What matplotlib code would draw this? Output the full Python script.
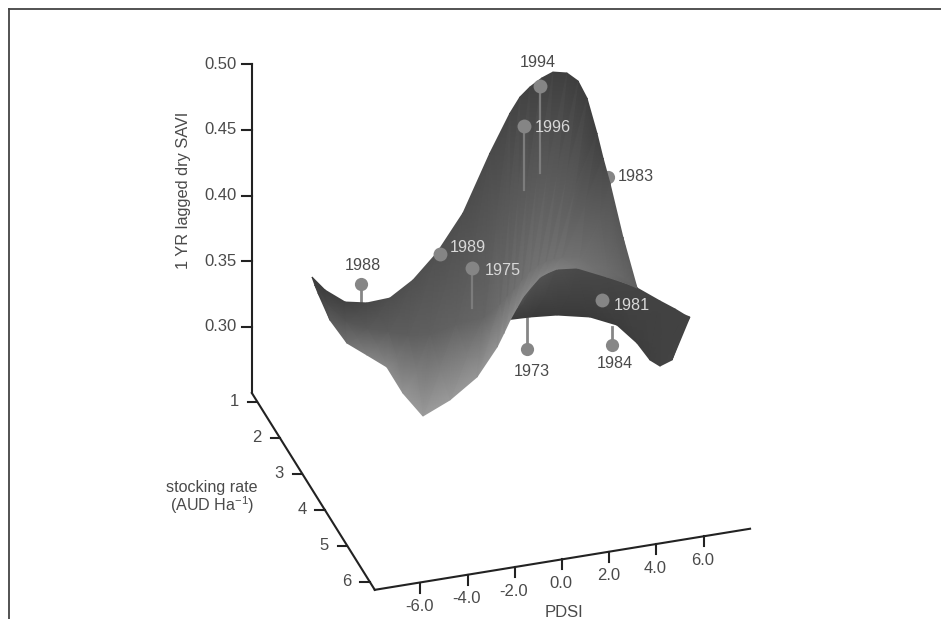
import numpy as np
import matplotlib
matplotlib.use('Agg')
from matplotlib import pyplot as plt
from matplotlib.lines import Line2D

plt.rcParams['font.family'] = ['Liberation Sans', 'DejaVu Sans']
plt.rcParams['mathtext.default'] = 'regular'

# Tick values
savi_ticks = [0.30, 0.35, 0.40, 0.45, 0.50]
stock_ticks = [1, 2, 3, 4, 5, 6]
pdsi_ticks = [-6.0, -4.0, -2.0, 0.0, 2.0, 4.0, 6.0]

# Surface: x on the PDSI scale, y on the SAVI scale
# back edge, a row across the slope, front edge
hill_x_back = [-10.59, -10.04, -9.19, -8.26, -7.29, -6.31, -5.30, -4.19, -3.05, -2.20, -1.78, -1.36, -0.85, -0.38, 0.21, 0.68, 1.06, 1.48, 1.74, 2.03, 2.58, 3.18]
hill_y_back = [.338, .3281, .319, .3183, .322, .3357, .3563, .3867, .4323, .4627, .4749, .4825, .4894, .4939, .4932, .4871, .4741, .4475, .4285, .4095, .3684, .3297]
hill_c_back = [58, 62, 66, 72, 78, 80, 80, 78, 74, 70, 68, 66, 65, 64, 63, 62, 63, 64, 70, 80, 90, 96]

hill_x_mid = [-10.47, -9.92, -9.15, -8.26, -7.37, -6.53, -5.59, -4.49, -3.31, -2.63, -2.33, -2.03, -1.70, -1.36, -1.02, -0.68, -0.34, 0.0, 0.76, 1.91, 2.67, 3.18]
hill_y_mid = [.3319, .3167, .3038, .2985, .2962, .2932, .2939, .3015, .3068, .3167, .3224, .3281, .335, .3418, .346, .3494, .3512, .3525, .3525, .3449, .3373, .3297]
hill_c_mid = [62, 74, 85, 90, 92, 94, 96, 98, 102, 108, 110, 112, 113, 114, 114, 114, 114, 114, 112, 108, 102, 96]

hill_x_front = [-10.34, -9.83, -9.11, -8.26, -7.42, -6.74, -5.89, -4.75, -3.60, -2.75, -2.47, -2.20, -1.93, -1.65, -1.30, -0.93, -0.57, -0.21, 0.64, 1.91, 2.67, 3.18]
hill_y_front = [.3259, .3053, .2878, .2787, .2696, .2498, .2323, .2445, .262, .2848, .295, .3053, .314, .3228, .3305, .338, .3415, .3441, .3449, .338, .3335, .3297]
hill_c_front = [64, 90, 112, 128, 136, 148, 156, 154, 150, 146, 143, 140, 138, 136, 134, 132, 130, 128, 120, 108, 98, 96]

# Dark band under the front ridge
band_x_top = [-1.78, -.93, -.21, .64, 1.91, 3.18, 4.15, 4.79, 5.21, 5.42]
band_y_top = [.3205, .338, .3441, .3449, .338, .3297, .3198, .3137, .3091, .3076]
band_c_top = [84, 82, 78, 74, 70, 68, 66, 66, 66, 66]

band_x_bot = [-2.42, -1.36, -.21, 1.19, 2.33, 3.18, 3.73, 4.15, 4.66, 5.42]
band_y_bot = [.3053, .3076, .3091, .3076, .3015, .2878, .2749, .2703, .2749, .3076]
band_c_bot = [60, 58, 58, 58, 60, 62, 64, 66, 68, 66]

# Year points, top end of the stem, stem end on the surface (None = no stem)
years_under = ['1988', '1983', '1973', '1984']
under_x = [-8.52, 1.95, -1.48, 2.12]
under_y = [.3327, .4141, .2833, .2863]
under_end = [.3183, None, .3076, .30]

years_over = ['1994', '1996', '1989', '1975', '1981']
over_x = [-.93, -1.61, -5.17, -3.81, 1.69]
over_y = [.4833, .4529, .3555, .3449, .3205]
over_end = [.4171, .4042, None, .3144, None]

# Year labels
label_names = ['1994', '1996', '1983', '1989', '1975', '1988', '1981', '1973', '1984']
label_x = [-1.02, -.38, 3.14, -3.98, -2.5, -8.43, 2.97, -1.27, 2.25]
label_y = [.5015, .4521, .4148, .3601, .3433, .3471, .3167, .2665, .2719]
label_col = ['#4a4a4a', '#d8d8d8', '#4a4a4a', '#d8d8d8', '#d8d8d8', '#4a4a4a', '#d8d8d8', '#4a4a4a', '#4a4a4a']

# floor lines of the box, in the same x / y scale
def pdsi_floor(p):
    return 0.1232 + 0.00293 * p

def stock_x(s):
    return -12.90 + 0.952 * (s - 1)

def stock_y(s):
    return 0.243 - 0.02738 * (s - 1)

savi_axis_x = -13.14
savi_bottom = 0.2498

axis_col = '#222222'
text_col = '#4a4a4a'
marker_col = '#868686'

fig = plt.figure(figsize=(9.41, 6.19), dpi=100)
ax = fig.add_axes([0, 0, 1, 1])
ax.set_xlim(-23.81, 16.06)
ax.set_ylim(0.0779, 0.5487)
ax.axis('off')

# picture frame
fig.add_artist(Line2D([8.5 / 941, 8.5 / 941], [0, 1 - 8.8 / 619], color='#444444', lw=1.3))
fig.add_artist(Line2D([8.5 / 941, 1], [1 - 8.8 / 619, 1 - 8.8 / 619], color='#444444', lw=1.3))

# SAVI axis
ax.plot([savi_axis_x, savi_axis_x], [savi_bottom, 0.5], color=axis_col, lw=1.5, solid_capstyle='projecting')
for t in savi_ticks:
    ax.plot([savi_axis_x - 0.40, savi_axis_x], [t, t], color=axis_col, lw=1.5)
    ax.text(savi_axis_x - 0.63, t, '%.2f' % t, ha='right', va='center', fontsize=12, color=text_col)
ax.text(-16.05, 0.4042, '1 YR lagged dry SAVI', rotation=90, ha='center', va='center', fontsize=11.8, color=text_col)

# stocking rate axis
s_end = 6.22
ax.plot([savi_axis_x, stock_x(s_end)], [savi_bottom, stock_y(s_end)], color=axis_col, lw=1.5)
for s in stock_ticks:
    ax.plot([stock_x(s) - 0.40, stock_x(s)], [stock_y(s), stock_y(s)], color=axis_col, lw=1.5)
    ax.text(stock_x(s) - 0.98, stock_y(s), str(s), ha='center', va='center', fontsize=12, color=text_col)
ax.text(-14.83, 0.1700, 'stocking rate\n(AUD Ha$^{-1}$)', ha='center', va='center', fontsize=11.6, color=text_col, linespacing=1.0)

# PDSI axis
ax.plot([stock_x(s_end), 7.97], [stock_y(s_end), pdsi_floor(7.97)], color=axis_col, lw=1.5)
for p in pdsi_ticks:
    ax.plot([p, p], [pdsi_floor(p), pdsi_floor(p) - 0.0076], color=axis_col, lw=1.5)
    ax.text(p - 0.04, pdsi_floor(p) - 0.0183, '%.1f' % p, ha='center', va='center', fontsize=12, color=text_col)
ax.text(0.08, 0.0825, 'PDSI', ha='center', va='center', fontsize=12, color=text_col)

# points that sit behind the surface
for x, y, end in zip(under_x, under_y, under_end):
    if end is not None:
        ax.plot([x, x], [y, end], color=marker_col, lw=2, zorder=2)
    ax.plot(x, y, 'o', color=marker_col, ms=9.5, mew=0, zorder=2)

# surface, back part first so the front overlaps it
band_x = np.array([band_x_top, band_x_bot])
band_y = np.array([band_y_top, band_y_bot])
band_c = np.array([band_c_top, band_c_bot])
ax.pcolormesh(band_x, band_y, band_c, shading='gouraud', cmap='gray', vmin=0, vmax=255, zorder=3)

hill_x = np.array([hill_x_back, hill_x_mid, hill_x_front])
hill_y = np.array([hill_y_back, hill_y_mid, hill_y_front])
hill_c = np.array([hill_c_back, hill_c_mid, hill_c_front])
ax.pcolormesh(hill_x, hill_y, hill_c, shading='gouraud', cmap='gray', vmin=0, vmax=255, zorder=4)

# points on top of the surface
for x, y, end in zip(over_x, over_y, over_end):
    if end is not None:
        ax.plot([x, x], [y, end], color='#7c7c7c', lw=1.6, zorder=5)
    ax.plot(x, y, 'o', color='#858585', ms=10, mew=0, zorder=5)

for name, x, y, c in zip(label_names, label_x, label_y, label_col):
    ax.text(x, y, name, ha='center', va='center', fontsize=11.6, color=c, zorder=6)

fig.savefig('out.png', dpi=100)
